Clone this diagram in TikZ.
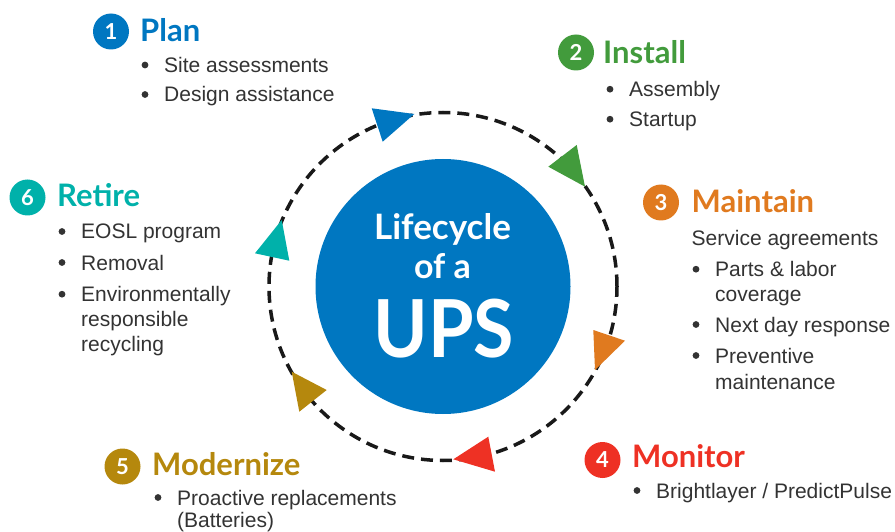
\documentclass[tikz,border=0pt]{standalone}
\usepackage{fontspec}
\setmainfont{Liberation Sans}
\newfontfamily\headfont{Lato}
\newfontfamily\upsfont{Lato}[FakeStretch=0.92]
\usetikzlibrary{calc}
\definecolor{cblue}{HTML}{0077C1}
\definecolor{cgreen}{HTML}{429B3C}
\definecolor{corange}{HTML}{E07A1F}
\definecolor{cred}{HTML}{EE3124}
\definecolor{cgold}{HTML}{B5880D}
\definecolor{cteal}{HTML}{00B1AA}
\definecolor{bodyc}{HTML}{333333}
\tikzset{
  numc/.style={circle, fill=#1, minimum size=36pt, inner sep=0pt, text=white,
    font=\headfont\bfseries\fontsize{22}{22}\selectfont},
  headtxt/.style={anchor=base west, inner sep=0pt, text=#1,
    font=\headfont\bfseries\fontsize{31}{31}\selectfont},
  bodytxt/.style={anchor=base west, inner sep=0pt, text=bodyc,
    font=\fontsize{21}{25}\selectfont},
  hubtxt/.style={anchor=base, inner sep=0pt, text=white},
  cyclepath/.style={draw=black!90, line width=3.5pt, dash pattern=on 12pt off 7pt}
}
\newcommand\bdot[1]{\fill[bodyc] ($(#1.base west)+(-19,-7.5)$) circle (3.4pt);}
\begin{document}
\begin{tikzpicture}[x=1pt,y=-1pt]
\useasboundingbox (0,0) rectangle (895,532);

% hub
\node[circle, fill=cblue, minimum size=255pt, inner sep=0pt] (hub) at (443,286.5) {};
\draw[cyclepath] (hub.center) circle (174pt);
\node[hubtxt, font=\headfont\bfseries\fontsize{35}{35}\selectfont] (h1) at (442.5,240) {Lifecycle};
\node[hubtxt, font=\headfont\bfseries\fontsize{34}{34}\selectfont] (h2) at (442.5,278) {of a};
\node[hubtxt, font=\upsfont\bfseries\fontsize{80}{80}\selectfont] (h3) at (444,357) {UPS};

% arrow heads on the cycle
\fill[cblue]   (371.7,108.3) -- (414.3,114) -- (382.7,141.7) -- cycle;
\fill[cgreen]  (576.7,145) -- (548.3,166.7) -- (585,186.7) -- cycle;
\fill[corange] (593.3,330) -- (625,340.7) -- (595,370) -- cycle;
\fill[cred]    (488.3,436.7) -- (453.3,459.3) -- (495,471.7) -- cycle;
\fill[cgold]   (291.7,371.7) -- (326.7,390) -- (299.3,411.7) -- cycle;
\fill[cteal]   (281.7,220) -- (255,253.3) -- (289.3,260.7) -- cycle;

% 1 Plan
\node[numc=cblue] (n1) at (111,31.5) {1};
\node[headtxt=cblue] (p1) at (140,41.5) {Plan};
\node[bodytxt] (p1a) at (164,72.5) {Site assessments}; \bdot{p1a}
\node[bodytxt] (p1b) at (164,102) {Design assistance}; \bdot{p1b}

% 2 Install
\node[numc=cgreen] (n2) at (576,52.5) {2};
\node[headtxt=cgreen] (p2) at (603,63.3) {Install};
\node[bodytxt] (p2a) at (629,96.7) {Assembly}; \bdot{p2a}
\node[bodytxt] (p2b) at (629,126.7) {Startup}; \bdot{p2b}

% 3 Maintain
\node[numc=corange] (n3) at (661,202.5) {3};
\node[headtxt=corange] (p3) at (691.5,213) {Maintain};
\node[bodytxt] (p3s) at (691.5,245) {Service agreements};
\node[bodytxt] (p3a) at (715,276.7) {Parts \& labor}; \bdot{p3a}
\node[bodytxt] (p3a2) at (715,301.7) {coverage};
\node[bodytxt] (p3b) at (715,332) {Next day response}; \bdot{p3b}
\node[bodytxt] (p3c) at (715,363) {Preventive}; \bdot{p3c}
\node[bodytxt] (p3c2) at (715,389) {maintenance};

% 4 Monitor
\node[numc=cred] (n4) at (602.5,460) {4};
\node[headtxt=cred] (p4) at (632,467) {Monitor};
\node[bodytxt] (p4a) at (656,498) {Brightlayer / PredictPulse}; \bdot{p4a}

% 5 Modernize
\node[numc=cgold] (n5) at (122.5,466.5) {5};
\node[headtxt=cgold] (p5) at (152,475) {Modernize};
\node[bodytxt] (p5a) at (177,505) {Proactive replacements}; \bdot{p5a}
\node[bodytxt] (p5a2) at (177,527) {(Batteries)};

% 6 Retire
\node[numc=cteal] (n6) at (27.5,197.5) {6};
\node[headtxt=cteal] (p6) at (57,206.7) {Retire};
\node[bodytxt] (p6a) at (81,239) {EOSL program}; \bdot{p6a}
\node[bodytxt] (p6b) at (81,270) {Removal}; \bdot{p6b}
\node[bodytxt] (p6c) at (81,301.7) {Environmentally}; \bdot{p6c}
\node[bodytxt] (p6c2) at (81,326.7) {responsible};
\node[bodytxt] (p6c3) at (81,351.7) {recycling};
\end{tikzpicture}
\end{document}
